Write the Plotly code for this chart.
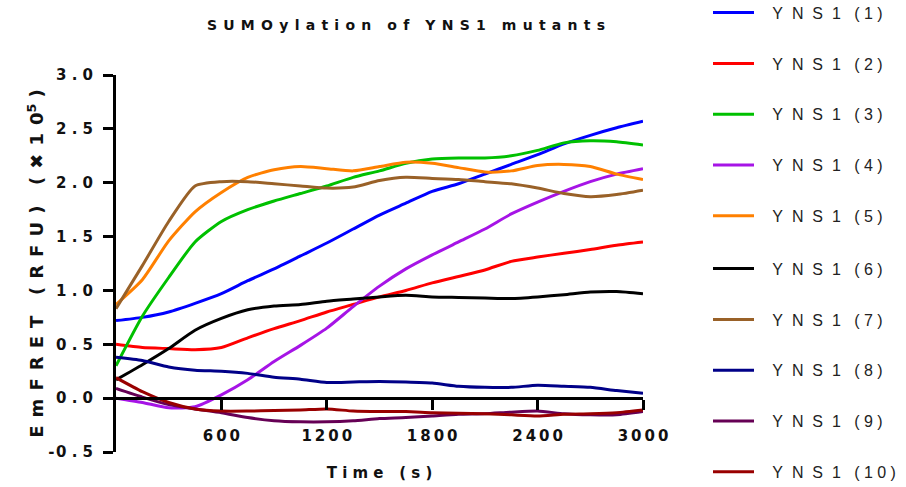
import plotly.graph_objects as go

time_s = [0, 150, 300, 450, 600, 750, 900, 1050, 1200, 1350, 1500,
          1650, 1800, 1950, 2100, 2250, 2400, 2550, 2700, 2850, 3000]

yns1_1 = [0.72, 0.75, 0.80, 0.88, 0.97, 1.09, 1.20, 1.32, 1.44, 1.57, 1.70,
          1.81, 1.92, 1.99, 2.08, 2.17, 2.26, 2.36, 2.44, 2.51, 2.57]
yns1_2 = [0.50, 0.47, 0.46, 0.45, 0.47, 0.56, 0.645, 0.72, 0.80, 0.87, 0.94,
          1.00, 1.07, 1.13, 1.19, 1.27, 1.31, 1.345, 1.38, 1.42, 1.45]
yns1_3 = [0.30, 0.76, 1.12, 1.45, 1.64, 1.75, 1.83, 1.90, 1.97, 2.05, 2.11,
          2.18, 2.22, 2.23, 2.23, 2.25, 2.30, 2.37, 2.39, 2.38, 2.35]
yns1_4 = [0.00, -0.04, -0.09, -0.08, 0.03, 0.17, 0.34, 0.49, 0.65, 0.85, 1.04,
          1.20, 1.33, 1.45, 1.57, 1.71, 1.82, 1.92, 2.01, 2.08, 2.13]
yns1_5 = [0.87, 1.10, 1.46, 1.73, 1.91, 2.05, 2.12, 2.15, 2.13, 2.11, 2.15,
          2.19, 2.18, 2.14, 2.10, 2.11, 2.16, 2.17, 2.15, 2.08, 2.03]
yns1_6 = [0.17, 0.31, 0.46, 0.63, 0.74, 0.82, 0.855, 0.87, 0.90, 0.92, 0.94,
          0.955, 0.94, 0.935, 0.93, 0.925, 0.94, 0.96, 0.985, 0.99, 0.97]
yns1_7 = [0.83, 1.23, 1.64, 1.97, 2.01, 2.01, 1.99, 1.97, 1.95, 1.96, 2.02,
          2.05, 2.04, 2.03, 2.01, 1.99, 1.95, 1.90, 1.87, 1.89, 1.93]
yns1_8 = [0.38, 0.35, 0.29, 0.26, 0.25, 0.23, 0.195, 0.175, 0.145, 0.15, 0.155,
          0.15, 0.14, 0.11, 0.10, 0.10, 0.12, 0.11, 0.10, 0.07, 0.045]
yns1_9 = [0.09, 0.01, -0.06, -0.10, -0.135, -0.18, -0.21, -0.22, -0.22, -0.21, -0.19,
          -0.18, -0.165, -0.15, -0.145, -0.13, -0.12, -0.145, -0.155, -0.155, -0.125]
yns1_10 = [0.19, 0.06, -0.04, -0.10, -0.12, -0.12, -0.115, -0.11, -0.10, -0.12, -0.125,
           -0.125, -0.135, -0.14, -0.145, -0.155, -0.165, -0.15, -0.145, -0.135, -0.11]

series_names = ["YNS1 (1)", "YNS1 (2)", "YNS1 (3)", "YNS1 (4)", "YNS1 (5)",
                "YNS1 (6)", "YNS1 (7)", "YNS1 (8)", "YNS1 (9)", "YNS1 (10)"]
series_values = [yns1_1, yns1_2, yns1_3, yns1_4, yns1_5,
                 yns1_6, yns1_7, yns1_8, yns1_9, yns1_10]
series_colors = ["#0000FF", "#FF0000", "#00C000", "#A614E6", "#FF8000",
                 "#000000", "#996128", "#000088", "#660055", "#990000"]

x_tickvals = [600, 1200, 1800, 2400, 3000]
x_ticklabels = ["600", "1200", "1800", "2400", "3000"]
y_tickvals = [-0.5, 0.0, 0.5, 1.0, 1.5, 2.0, 2.5, 3.0]
y_ticklabels = ["-0.5", "0.0", "0.5", "1.0", "1.5", "2.0", "2.5", "3.0"]

NB = "\u00a0"
HS = "\u200a"
TS = "\u2009"


def spaced(s, gap=NB, wordgap=NB * 2):
    out = []
    for word in s.split(" "):
        out.append(gap.join(list(word)))
    return (gap + wordgap).join(out)


def y_tick(s):
    # minus sign sits close to the first digit
    if s.startswith("-"):
        return "-" + HS + spaced(s[1:])
    return spaced(s)


def legend_label(s):
    base, num = s.split(" ")
    inner = num[1:-1]
    return NB * 3 + (NB * 2).join(list(base)) + NB * 3 + "(" + NB + NB.join(list(inner)) + NB + ")"


fig = go.Figure()
for i, (name, vals, col) in enumerate(zip(series_names, series_values, series_colors)):
    fig.add_trace(go.Scatter(
        x=time_s, y=vals, mode="lines", name=legend_label(name),
        legendgroup=name, legend="legend" if i < 5 else "legend2",
        line=dict(color=col, width=3, shape="spline", smoothing=0.6),
    ))

tick_font = dict(family="DejaVu Sans", size=15, color="#111111", weight="bold")
legend_font = dict(family="Liberation Sans", size=16, color="#222222")

fig.update_layout(
    width=906, height=487,
    margin=dict(l=116, r=263, t=75, b=35, autoexpand=False),
    plot_bgcolor="white", paper_bgcolor="white",
    showlegend=True,
    title=dict(text=spaced("SUMOylation of YNS1 mutants", gap=NB + HS), x=406 / 906, xref="container",
               xanchor="center", y=1 - 25 / 487, yanchor="middle", yref="container",
               font=dict(family="DejaVu Sans", size=14, color="#111111", weight="bold")),
    xaxis=dict(range=[0, 3000], anchor="free", position=0.5 / 3.5, automargin=False,
               showline=True, linecolor="black", linewidth=2.5,
               ticks="outside", ticklen=10, tickwidth=2.5, tickcolor="black",
               tickvals=x_tickvals, ticktext=[spaced(t, gap=TS) for t in x_ticklabels],
               tickfont=tick_font, ticklabelstandoff=13,
               showgrid=False, zeroline=False,
               title=dict(text=spaced("Time (s)"), standoff=23,
                          font=dict(family="DejaVu Sans", size=15, color="#111111", weight="bold"))),
    yaxis=dict(range=[-0.5, 3.0], automargin=False, showline=True, linecolor="black", linewidth=3,
               ticks="outside", ticklen=10, tickwidth=3, tickcolor="black",
               tickvals=y_tickvals, ticktext=[y_tick(t) for t in y_ticklabels],
               tickfont=tick_font, ticklabelstandoff=7,
               showgrid=False, zeroline=False,
               title=dict(text=spaced("EmFRET (RFU) (✖10", gap=NB + HS) + "<sup>5</sup>" + NB + ")",
                          standoff=0,
                          font=dict(family="DejaVu Sans", size=18, color="#111111", weight="bold"))),
    legend=dict(x=(708 - 116) / 527, y=1 + (75 + 4.3) / 377, xanchor="left", yanchor="top",
                font=legend_font, tracegroupgap=27, itemwidth=41, bgcolor="rgba(0,0,0,0)"),
    legend2=dict(x=(708 - 116) / 527, y=1 + (75 - 251.7) / 377, xanchor="left", yanchor="top",
                 font=legend_font, tracegroupgap=27, itemwidth=41, bgcolor="rgba(0,0,0,0)"),
)

fig.write_html("out.html")
